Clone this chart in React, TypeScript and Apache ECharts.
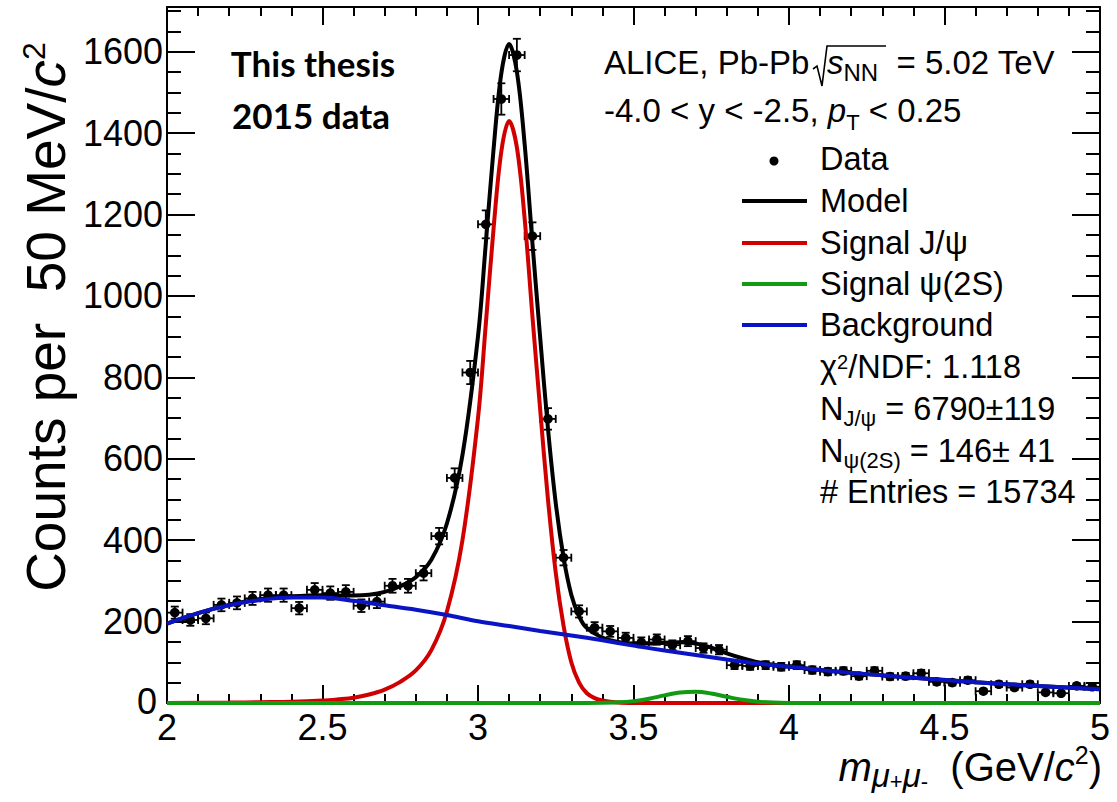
import { useEffect, useRef } from 'react';
import * as echarts from 'echarts';

// Dimuon invariant-mass histogram: bin centres (GeV/c^2) and counts per 50 MeV/c^2
const massBins = [
  2.025, 2.075, 2.125, 2.175, 2.225, 2.275, 2.325, 2.375, 2.425, 2.475,
  2.525, 2.575, 2.625, 2.675, 2.725, 2.775, 2.825, 2.875, 2.925, 2.975,
  3.025, 3.075, 3.125, 3.175, 3.225, 3.275, 3.325, 3.375, 3.425, 3.475,
  3.525, 3.575, 3.625, 3.675, 3.725, 3.775, 3.825, 3.875, 3.925, 3.975,
  4.025, 4.075, 4.125, 4.175, 4.225, 4.275, 4.325, 4.375, 4.425, 4.475,
  4.525, 4.575, 4.625, 4.675, 4.725, 4.775, 4.825, 4.875, 4.925, 4.975,
];
const counts = [
  222, 204, 208, 241, 246, 257, 265, 265, 233, 278,
  270, 273, 239, 249, 288, 288, 319, 410, 553, 812,
  1176, 1484, 1592, 1147, 698, 357, 225, 185, 176, 160,
  149, 156, 142, 152, 135, 131, 93, 91, 93, 89,
  93, 81, 77, 79, 66, 79, 65, 66, 73, 52,
  50, 56, 29, 46, 38, 46, 26, 24, 42, 40,
];
const binWidth = 0.05;

// Fit curves sampled along the mass axis
const modelCurve = [
  [2.0, 195], [2.1, 221], [2.2, 241], [2.3, 255], [2.4, 262], [2.5, 265], [2.55, 264],
  [2.6, 264], [2.65, 266], [2.7, 273], [2.75, 287], [2.8, 309], [2.85, 352], [2.9, 441],
  [2.95, 609], [3.0, 901], [3.025, 1128], [3.05, 1360], [3.075, 1547], [3.1, 1619],
  [3.125, 1551], [3.15, 1373], [3.175, 1130], [3.2, 897], [3.225, 674], [3.25, 491],
  [3.275, 358], [3.3, 266], [3.325, 213], [3.35, 184], [3.4, 161], [3.45, 150], [3.5, 146],
  [3.55, 146], [3.6, 148], [3.65, 149], [3.7, 146], [3.75, 136], [3.8, 122], [3.85, 110],
  [3.9, 100], [3.95, 94], [4.0, 89], [4.2, 74], [4.4, 62], [4.6, 51], [4.8, 42], [5.0, 34],
];
const jpsiCurve = [
  [2.0, 0], [2.2, 1], [2.3, 2], [2.4, 3], [2.5, 6], [2.55, 9], [2.6, 13], [2.65, 21],
  [2.7, 33], [2.75, 52], [2.8, 80], [2.85, 130], [2.9, 225], [2.95, 400], [3.0, 700],
  [3.025, 930], [3.05, 1165], [3.075, 1355], [3.1, 1430], [3.125, 1365], [3.15, 1190],
  [3.175, 950], [3.2, 720], [3.225, 500], [3.25, 320], [3.275, 190], [3.3, 100],
  [3.325, 50], [3.35, 24], [3.375, 12], [3.4, 6], [3.45, 1], [3.5, 0], [4.0, 0], [5.0, 0],
];
const psi2sCurve = [
  [2.0, 0], [3.3, 0], [3.4, 0.5], [3.45, 1.6], [3.5, 4.6], [3.55, 10.5], [3.6, 18.7],
  [3.65, 25.8], [3.7, 27.9], [3.75, 23.4], [3.8, 15.3], [3.85, 7.8], [3.9, 3.1],
  [3.95, 1], [4.0, 0.3], [4.1, 0], [5.0, 0],
];
const backgroundCurve = [
  [2.0, 195], [2.1, 221], [2.2, 240], [2.3, 253], [2.4, 259], [2.5, 259], [2.6, 251],
  [2.7, 240], [2.8, 229], [2.9, 216], [3.0, 201], [3.1, 189], [3.2, 177], [3.3, 166],
  [3.4, 154], [3.5, 141], [3.6, 129], [3.7, 118], [3.8, 107], [3.9, 97], [4.0, 89],
  [4.2, 74], [4.4, 62], [4.6, 51], [4.8, 42], [5.0, 34],
];

const xMin = 2;
const xMax = 5;
const yMin = 0;
const yMax = 1710;

const FONT = '"Liberation Sans", Arial, Helvetica, sans-serif';
const BLACK = '#000000';
const RED = '#d10000';
const GREEN = '#129a12';
const BLUE = '#0a14c4';

const legendEntries = [
  { label: 'Model', color: BLACK },
  { label: 'Signal J/ψ', color: RED },
  { label: 'Signal ψ(2S)', color: GREEN },
  { label: 'Background', color: BLUE },
];

function yTickLabel(v: number) {
  if (v % 200 !== 0) return '';
  // the zero label sits in the corner next to the first mass label
  return v === 0 ? '{corner|0}' : String(v);
}

function frameAxis(position: string, major: boolean, showLabel: boolean, isX: boolean) {
  const majorLen = isX ? 18 : 28;
  const minorLen = isX ? 9 : 14;
  return {
    type: 'value',
    position,
    min: isX ? xMin : yMin,
    max: isX ? xMax : yMax,
    interval: isX ? 0.5 : major ? 200 : 50,
    axisLine: { show: major, onZero: false, lineStyle: { color: BLACK, width: 2 } },
    axisTick: { show: true, inside: true, length: major ? majorLen : minorLen, lineStyle: { color: BLACK, width: 2 } },
    minorTick: isX && major
      ? { show: true, splitNumber: 5, length: minorLen, lineStyle: { color: BLACK, width: 2 } }
      : { show: false },
    splitLine: { show: false },
    axisLabel: {
      show: showLabel,
      color: BLACK,
      fontFamily: FONT,
      fontSize: 36,
      lineHeight: 24,
      margin: isX ? 12 : 4,
      formatter: (v: number) => (isX ? String(v) : yTickLabel(v)),
      rich: {
        corner: {
          color: BLACK,
          fontFamily: FONT,
          fontSize: 36,
          lineHeight: 24,
          padding: [0, 6, 4, 0],
        },
      },
    },
  };
}

function textItem(x: number, y: number, text: string, fontSize: number, extra: any = {}) {
  return {
    type: 'text',
    x,
    y,
    silent: true,
    style: {
      text,
      fill: BLACK,
      fontFamily: FONT,
      fontSize,
      align: 'left',
      verticalAlign: 'middle',
      ...extra,
    },
  };
}

export default function App() {
  const ref = useRef<HTMLDivElement>(null);

  useEffect(() => {
    if (!ref.current) return;
    const chart = echarts.init(ref.current, null, { renderer: 'svg' });

    const points = massBins.map((m, i) => [m, counts[i]]);

    const lineSeries = (name: string, data: number[][], color: string, z: number) => ({
      name,
      type: 'line',
      data,
      xAxisIndex: 0,
      yAxisIndex: 0,
      smooth: 0.35,
      showSymbol: false,
      symbol: 'none',
      clip: false,
      silent: true,
      z,
      lineStyle: { color, width: 4 },
    });

    const LEG = 32.5;
    const legendGraphics: any[] = [];
    legendGraphics.push({
      type: 'circle',
      silent: true,
      shape: { cx: 774, cy: 161, r: 4.5 },
      style: { fill: BLACK },
    });
    legendGraphics.push(textItem(820, 159, 'Data', LEG));
    const rowY = [201, 243, 284, 325];
    legendEntries.forEach((e, i) => {
      legendGraphics.push({
        type: 'line',
        silent: true,
        shape: { x1: 742, y1: rowY[i], x2: 807, y2: rowY[i] },
        style: { stroke: e.color, lineWidth: 4 },
      });
      legendGraphics.push(textItem(820, rowY[i], e.label, LEG));
    });

    const nLeg = { fontFamily: FONT, fontSize: LEG, fill: BLACK };
    legendGraphics.push(
      textItem(820, 367, '{n|χ}{sup|2}{n|/NDF: 1.118}', LEG, {
        rich: {
          n: { ...nLeg, lineHeight: 30 },
          sup: { fontFamily: FONT, fontSize: 20, lineHeight: 20, verticalAlign: 'top', fill: BLACK },
        },
      }),
    );
    legendGraphics.push(
      textItem(820, 409, '{n|N}{sub|J/ψ}{n| = 6790±119}', LEG, {
        rich: {
          n: { ...nLeg, lineHeight: 40 },
          sub: { fontFamily: FONT, fontSize: 22, lineHeight: 8, verticalAlign: 'bottom', fill: BLACK },
        },
      }),
    );
    legendGraphics.push(
      textItem(820, 451, '{n|N}{sub|ψ(2S)}{n| = 146± 41}', LEG, {
        rich: {
          n: { ...nLeg, lineHeight: 40 },
          sub: { fontFamily: FONT, fontSize: 22, lineHeight: 8, verticalAlign: 'bottom', fill: BLACK },
        },
      }),
    );
    legendGraphics.push(textItem(820, 492, '# Entries = 15734', LEG));

    const n33 = { fontFamily: FONT, fontSize: 33, fill: BLACK, lineHeight: 44 };
    const headerGraphics: any[] = [
      textItem(604, 62, 'ALICE, Pb-Pb', 33),
      {
        type: 'polyline',
        silent: true,
        shape: { points: [[813, 69], [817, 66], [822, 86], [827, 46], [886, 46]] },
        style: { stroke: BLACK, lineWidth: 1.6, fill: null },
      },
      textItem(827, 62, '{it|s}{sub|NN}{n|  = 5.02 TeV}', 33, {
        rich: {
          n: n33,
          it: { ...n33, fontStyle: 'italic' },
          sub: { fontFamily: FONT, fontSize: 24, lineHeight: 22, verticalAlign: 'bottom', fill: BLACK },
        },
      }),
      textItem(604, 110, '{n|-4.0 < y < -2.5, }{it|p}{sub|T}{n| < 0.25}', 33, {
        rich: {
          n: { ...n33, lineHeight: 46 },
          it: { ...n33, lineHeight: 46, fontStyle: 'italic' },
          sub: { fontFamily: FONT, fontSize: 22, lineHeight: 22, verticalAlign: 'bottom', fill: BLACK },
        },
      }),
      {
        type: 'text',
        x: 313,
        y: 63,
        silent: true,
        style: {
          text: 'This thesis',
          fill: BLACK,
          fontFamily: 'Lato, "Open Sans", sans-serif',
          fontWeight: 'bold',
          fontSize: 35,
          align: 'center',
          verticalAlign: 'middle',
        },
      },
      {
        type: 'text',
        x: 311,
        y: 115,
        silent: true,
        style: {
          text: '2015 data',
          fill: BLACK,
          fontFamily: 'Lato, "Open Sans", sans-serif',
          fontWeight: 'bold',
          fontSize: 35,
          align: 'center',
          verticalAlign: 'middle',
        },
      },
    ];

    const n40 = { fontFamily: FONT, fontSize: 40, fill: BLACK, lineHeight: 50 };
    const axisTitles: any[] = [
      {
        type: 'text',
        x: 1102,
        y: 767,
        silent: true,
        style: {
          text: '{it|m}{sub|μ}{ss|+}{sub|μ}{ss|-}{n|  (GeV/}{it|c}{sup|2}{n|)}',
          align: 'right',
          verticalAlign: 'middle',
          fill: BLACK,
          rich: {
            n: n40,
            it: { ...n40, fontStyle: 'italic' },
            sub: { fontFamily: FONT, fontSize: 33, lineHeight: 26, verticalAlign: 'bottom', fontStyle: 'italic', fill: BLACK },
            ss: { fontFamily: FONT, fontSize: 22, lineHeight: 40, verticalAlign: 'bottom', fill: BLACK },
            sup: { fontFamily: FONT, fontSize: 25, lineHeight: 34, verticalAlign: 'top', fill: BLACK },
          },
        },
      },
      {
        type: 'text',
        x: 46,
        y: 317,
        rotation: Math.PI / 2,
        silent: true,
        style: {
          text: '{n|Counts per  50 MeV/}{it|c}{sup|2}',
          align: 'center',
          verticalAlign: 'middle',
          fill: BLACK,
          rich: {
            n: { fontFamily: FONT, fontSize: 55, lineHeight: 56, fill: BLACK },
            it: { fontFamily: FONT, fontSize: 55, lineHeight: 56, fontStyle: 'italic', fill: BLACK },
            sup: { fontFamily: FONT, fontSize: 32, lineHeight: 30, verticalAlign: 'top', fill: BLACK },
          },
        },
      },
    ];

    chart.setOption({
      animation: false,
      backgroundColor: '#ffffff',
      grid: { left: 167, right: 17, top: 7, bottom: 99, containLabel: false },
      xAxis: [
        frameAxis('bottom', true, true, true),
        frameAxis('top', true, false, true),
      ],
      yAxis: [
        frameAxis('left', true, true, false),
        frameAxis('left', false, false, false),
        frameAxis('right', true, false, false),
        frameAxis('right', false, false, false),
      ],
      series: [
        {
          name: 'Data',
          type: 'custom',
          xAxisIndex: 0,
          yAxisIndex: 0,
          silent: true,
          z: 3,
          data: points,
          encode: { x: 0, y: 1 },
          renderItem: (_params: any, api: any) => {
            const m = api.value(0);
            const n = api.value(1);
            const err = Math.sqrt(n);
            const c = api.coord([m, n]);
            const hi = api.coord([m, n + err]);
            const lo = api.coord([m, n - err]);
            const left = api.coord([m - binWidth / 2, n]);
            const right = api.coord([m + binWidth / 2, n]);
            const st = { stroke: BLACK, lineWidth: 1.8 };
            const cap = 4;
            return {
              type: 'group',
              children: [
                { type: 'line', shape: { x1: c[0], y1: hi[1], x2: c[0], y2: lo[1] }, style: st },
                { type: 'line', shape: { x1: c[0] - cap, y1: hi[1], x2: c[0] + cap, y2: hi[1] }, style: st },
                { type: 'line', shape: { x1: c[0] - cap, y1: lo[1], x2: c[0] + cap, y2: lo[1] }, style: st },
                { type: 'line', shape: { x1: left[0], y1: c[1], x2: right[0], y2: c[1] }, style: st },
                { type: 'line', shape: { x1: left[0], y1: c[1] - cap, x2: left[0], y2: c[1] + cap }, style: st },
                { type: 'line', shape: { x1: right[0], y1: c[1] - cap, x2: right[0], y2: c[1] + cap }, style: st },
                { type: 'circle', shape: { cx: c[0], cy: c[1], r: 4.8 }, style: { fill: BLACK } },
              ],
            };
          },
        },
        lineSeries('Model', modelCurve, BLACK, 4),
        lineSeries('Signal J/ψ', jpsiCurve, RED, 5),
        lineSeries('Signal ψ(2S)', psi2sCurve, GREEN, 6),
        lineSeries('Background', backgroundCurve, BLUE, 7),
      ],
      graphic: [...headerGraphics, ...legendGraphics, ...axisTitles],
    });

    return () => {
      chart.dispose();
    };
  }, []);

  return (
    <div
      ref={ref}
      style={{ position: 'fixed', left: 0, top: 0, width: 1117, height: 802, background: '#fff' }}
    />
  );
}
